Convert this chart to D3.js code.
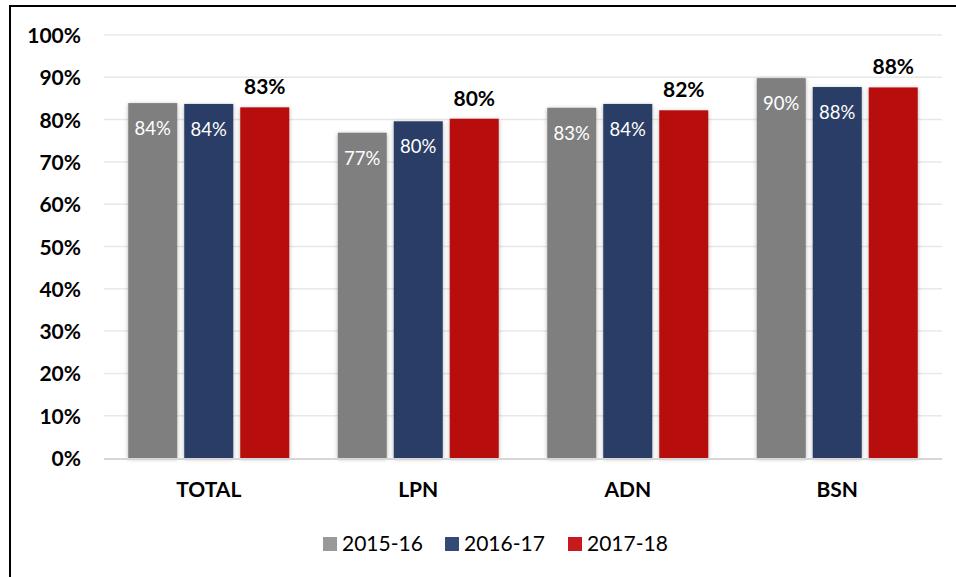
<!DOCTYPE html>
<html>
<head>
<meta charset="utf-8">
<script src="https://cdn.jsdelivr.net/npm/d3@7"></script>
<style>
  html, body { margin: 0; padding: 0; background: #fff; }
  svg { display: block; font-family: Lato, "Open Sans", sans-serif; }
</style>
</head>
<body>
<svg id="chart" width="956" height="577"></svg>
<script>
const categories = ["TOTAL", "LPN", "ADN", "BSN"];
const seriesNames = ["2015-16", "2016-17", "2017-18"];
const values2015 = [83.9, 76.9, 82.8, 89.8];
const values2016 = [83.7, 79.6, 83.7, 87.7];
const values2017 = [82.9, 80.2, 82.2, 87.6];
const yTicks = [0, 10, 20, 30, 40, 50, 60, 70, 80, 90, 100];
const barColors = ["#7F7F7F", "#2A3E66", "#B70C0F"];
const legendColors = ["#999999", "#324A74", "#C8191C"];

const allValues = [values2015, values2016, values2017];

const svg = d3.select("#chart");
svg.append("rect").attr("width", 956).attr("height", 577).attr("fill", "#fff");

// frame (cropped at right/bottom)
svg.append("rect").attr("x", 10).attr("y", 6).attr("width", 1000).attr("height", 700)
  .attr("fill", "none").attr("stroke", "#000").attr("stroke-width", 2);

const defs = svg.append("defs");
const f = defs.append("filter").attr("id", "shadow").attr("x", "-20%").attr("y", "-10%").attr("width", "140%").attr("height", "120%");
f.append("feDropShadow").attr("dx", 0).attr("dy", 1).attr("stdDeviation", 2.2)
  .attr("flood-color", "#000").attr("flood-opacity", 0.3);

const plotLeft = 104, plotRight = 942, plotTop = 35, plotBottom = 458;

const y = d3.scaleLinear().domain([0, 100]).range([plotBottom, plotTop]);
const x0 = d3.scaleBand().domain(categories).range([plotLeft, plotRight])
  .paddingInner(0.2315).paddingOuter(0.2315 / 2);
const x1 = d3.scaleBand().domain(seriesNames).range([0, x0.bandwidth()])
  .paddingInner(0.125).paddingOuter(0);

// gridlines
svg.append("g").selectAll("line").data(yTicks.filter(t => t > 0)).join("line")
  .attr("x1", plotLeft).attr("x2", plotRight)
  .attr("y1", d => y(d)).attr("y2", d => y(d))
  .attr("stroke", "#e8e8e8").attr("stroke-width", 1.5);

// y axis labels
const yAxis = d3.axisLeft(y).tickValues(yTicks).tickFormat(d => d + "%").tickSize(0).tickPadding(0);
const yg = svg.append("g").attr("transform", `translate(81,0)`).call(yAxis);
yg.select(".domain").remove();
yg.selectAll("text").attr("font-family", "Lato, sans-serif").attr("font-size", 21)
  .attr("font-weight", "bold").attr("fill", "#000").attr("dy", "0.36em");

// bars
const groups = svg.append("g").selectAll("g").data(categories).join("g")
  .attr("transform", d => `translate(${x0(d)},0)`);

groups.each(function(cat, ci) {
  const g = d3.select(this);
  seriesNames.forEach((s, si) => {
    const v = allValues[si][ci];
    g.append("rect")
      .attr("x", x1(s)).attr("width", x1.bandwidth())
      .attr("y", y(v)).attr("height", y(0) - y(v))
      .attr("fill", barColors[si]).attr("filter", "url(#shadow)");
  });
});

// baseline
svg.append("line").attr("x1", plotLeft).attr("x2", plotRight)
  .attr("y1", y(0) + 1).attr("y2", y(0) + 1)
  .attr("stroke", "#d6d6d6").attr("stroke-width", 2);

// labels
groups.each(function(cat, ci) {
  const g = d3.select(this);
  seriesNames.forEach((s, si) => {
    const v = allValues[si][ci];
    const cx = x1(s) + x1.bandwidth() / 2;
    if (si < 2) {
      g.append("text").attr("x", cx).attr("y", y(v) + 32)
        .attr("text-anchor", "middle").attr("font-size", 18.5).attr("fill", "#fff")
        .text(Math.round(v) + "%");
    } else {
      g.append("text").attr("x", cx).attr("y", y(v) - 13)
        .attr("text-anchor", "middle").attr("font-size", 21).attr("font-weight", "bold")
        .attr("fill", "#000").text(Math.round(v) + "%");
    }
  });
});

// x axis labels
const xAxis = d3.axisBottom(x0).tickSize(0).tickPadding(0);
const xg = svg.append("g").attr("transform", `translate(0,${plotBottom})`).call(xAxis);
xg.select(".domain").remove();
xg.selectAll("text").attr("font-family", "Lato, sans-serif").attr("font-size", 21)
  .attr("font-weight", "bold").attr("fill", "#000").attr("dy", null).attr("y", 38.5);

// legend
const legendX = [323, 445, 568];
const lg = svg.append("g").selectAll("g").data(seriesNames).join("g")
  .attr("transform", (d, i) => `translate(${legendX[i]},537)`);
lg.append("rect").attr("width", 14).attr("height", 14).attr("fill", (d, i) => legendColors[i]);
lg.append("text").attr("x", 19).attr("y", 13.5).attr("font-size", 21).attr("fill", "#000").text(d => d);
</script>
</body>
</html>
